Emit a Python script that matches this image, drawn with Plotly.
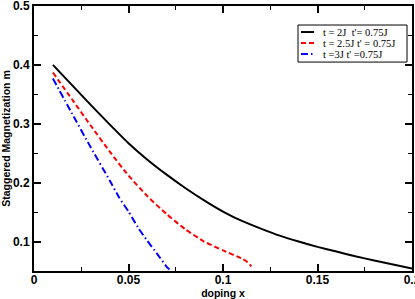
import plotly.graph_objects as go

# ---- data ----
names = ["t = 2J\u00a0 t'= 0.75J", "t = 2.5J t' = 0.75J", "t =3J t' =0.75J"]

x_black = [0.01, 0.02, 0.03, 0.04, 0.05, 0.06, 0.07, 0.08, 0.09, 0.10,
           0.11, 0.12, 0.13, 0.14, 0.15, 0.16, 0.17, 0.18, 0.19, 0.20]
y_black = [0.400, 0.366, 0.332, 0.299, 0.267, 0.239, 0.214, 0.191, 0.170, 0.151,
           0.135, 0.122, 0.110, 0.100, 0.091, 0.083, 0.075, 0.068, 0.061, 0.054]

x_red = [0.01, 0.02, 0.03, 0.04, 0.05, 0.06, 0.07, 0.08, 0.09, 0.10, 0.11, 0.113, 0.115]
y_red = [0.387, 0.342, 0.297, 0.253, 0.212, 0.177, 0.147, 0.121, 0.100, 0.085, 0.071, 0.065, 0.058]

x_blue = [0.01, 0.02, 0.03, 0.04, 0.045, 0.05, 0.055, 0.06, 0.065, 0.07, 0.0725]
y_blue = [0.377, 0.318, 0.260, 0.204, 0.175, 0.151, 0.124, 0.101, 0.080, 0.058, 0.050]

x_tickvals = [0, 0.05, 0.1, 0.15, 0.2]
x_ticktext = ["0", "0.05", "0.1", "0.15", "0.2"]
y_tickvals = [0.1, 0.2, 0.3, 0.4, 0.5]
y_ticktext = ["0.1", "0.2", "0.3", "0.4", "0.5"]

colors = ["black", "red", "blue"]
dashes = ["solid", "5px,3px", "7px,3px,1.5px,3px"]

fig = go.Figure()
for xs, ys, c, d, n in zip([x_black, x_red, x_blue], [y_black, y_red, y_blue], colors, dashes, names):
    fig.add_trace(go.Scatter(x=xs, y=ys, mode="lines", name=n, showlegend=False,
                             line=dict(color=c, width=2, dash=d, shape="spline", smoothing=0.5)))

axis_common = dict(showline=True, linecolor="black", linewidth=2, mirror="allticks",
                   ticks="inside", ticklen=7, tickwidth=1.5, tickcolor="black",
                   showgrid=False, zeroline=False, automargin=False, ticklabeloverflow="allow",
                   tickfont=dict(family="Liberation Sans", size=12, color="black", weight="bold"))

fig.update_xaxes(range=[0, 0.2], tickvals=x_tickvals, ticktext=x_ticktext,
                 ticklabelstandoff=-3,
                 minor=dict(tickvals=[0.025, 0.075, 0.125, 0.175], ticks="inside", ticklen=4,
                            tickcolor="black", tickwidth=1),
                 title=dict(text="doping x", standoff=3,
                            font=dict(family="Liberation Sans", size=10.5, color="black", weight="bold")),
                 **axis_common)
fig.update_yaxes(range=[0.05, 0.5], tickvals=y_tickvals, ticktext=y_ticktext,
                 ticklabelstandoff=0,
                 minor=dict(tickvals=[0.15, 0.25, 0.35, 0.45], ticks="inside", ticklen=4,
                            tickcolor="black", tickwidth=1),
                 title=dict(text="Staggered Magnetization m", standoff=6,
                            font=dict(family="Liberation Sans", size=10.5, color="black", weight="bold")),
                 **axis_common)

# ---- manual legend (paper coords) ----
def px(xp):
    return (xp - 34) / 378.0

def py(yp):
    return (270.7 - yp) / 264.7

fig.add_shape(type="rect", xref="paper", yref="paper", x0=px(298), x1=px(407), y0=py(62), y1=py(25),
              line=dict(color="black", width=1), fillcolor="white", layer="above")
rows = [32, 43, 54]
for r, c, d, n in zip(rows, colors, dashes, names):
    fig.add_shape(type="line", xref="paper", yref="paper", x0=px(301), x1=px(314), y0=py(r), y1=py(r),
                  line=dict(color=c, width=2, dash=d), layer="above")
    fig.add_annotation(xref="paper", yref="paper", x=px(321), y=py(r), xanchor="left", yanchor="middle",
                       text=n, showarrow=False,
                       font=dict(family="Liberation Serif", size=10.5, color="black"))

fig.update_layout(width=415, height=299, margin=dict(l=34, r=3, t=6, b=28),
                  plot_bgcolor="white", paper_bgcolor="white")

fig.write_html("out.html", config={"displayModeBar": False},
               post_script="document.body.style.margin='0';document.body.style.overflow='hidden';")
